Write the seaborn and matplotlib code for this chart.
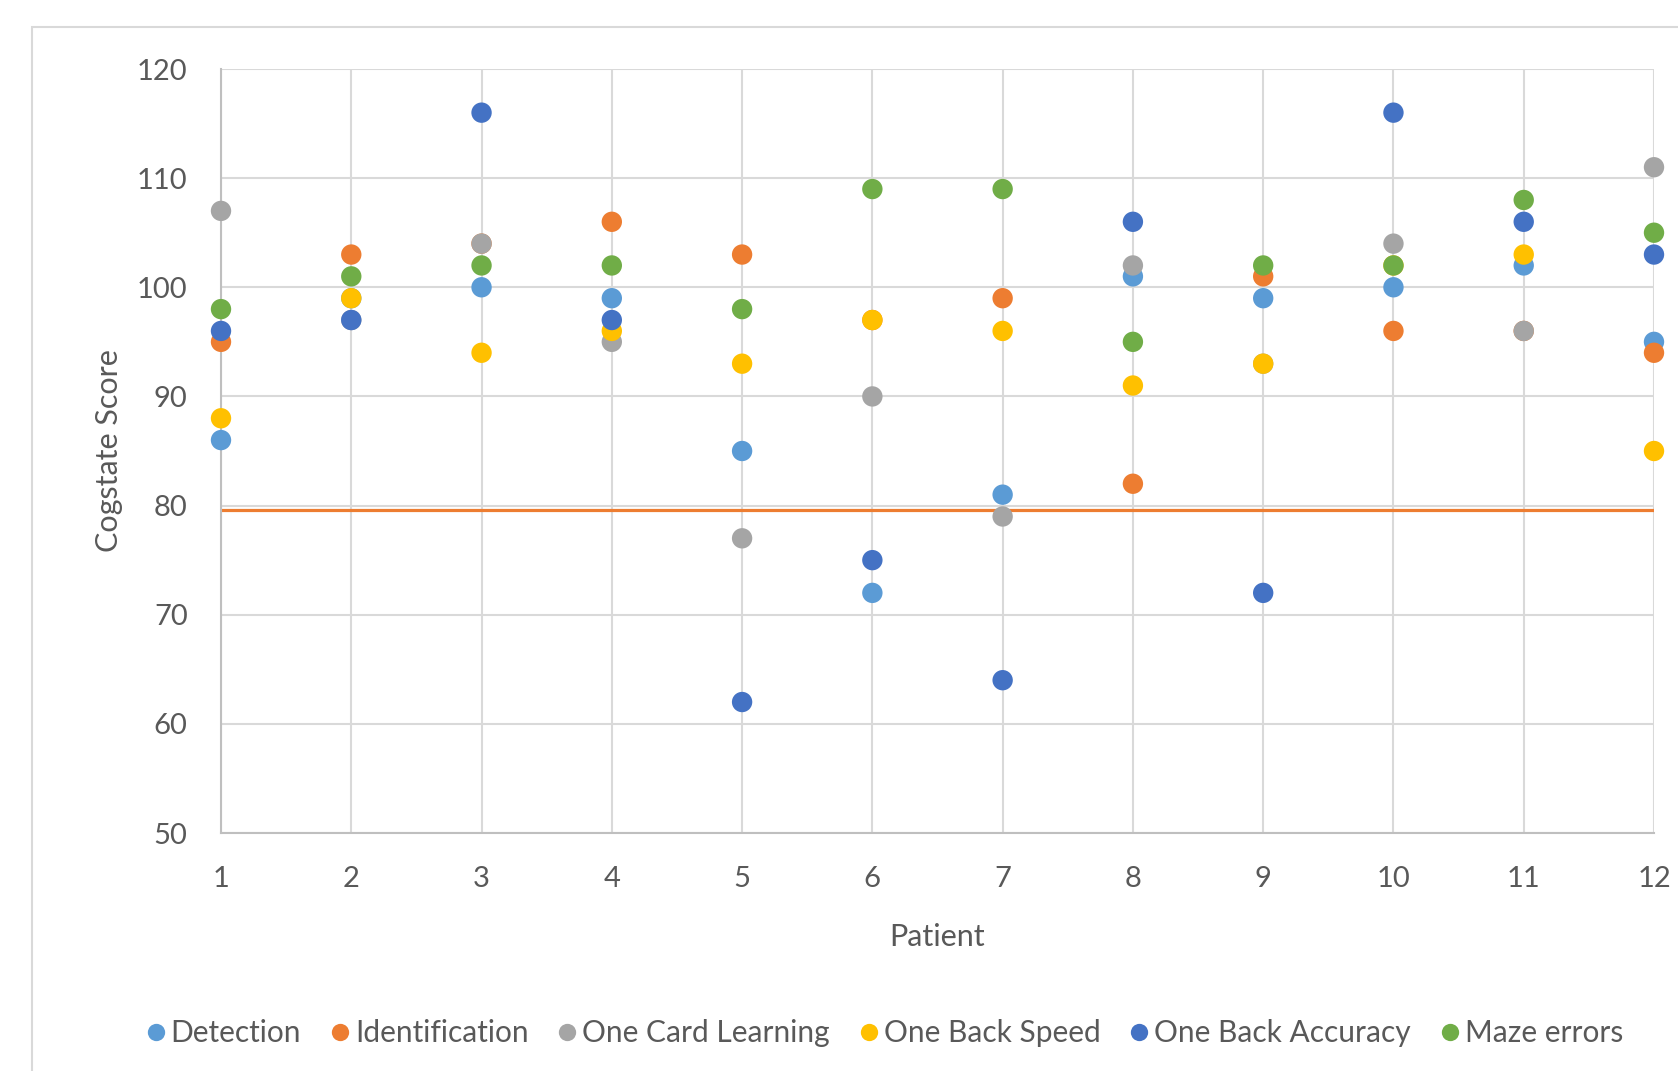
import matplotlib
matplotlib.use("Agg")
import matplotlib.pyplot as plt
from matplotlib.patches import Rectangle
import seaborn as sns
import pandas as pd

patients = [1, 2, 3, 4, 5, 6, 7, 8, 9, 10, 11, 12]
detection = [86, 99, 100, 99, 85, 72, 81, 101, 99, 100, 102, 95]
identification = [95, 103, 104, 106, 103, 97, 99, 82, 101, 96, 96, 94]
one_card_learning = [107, 97, 104, 95, 77, 90, 79, 102, 93, 104, 96, 111]
one_back_speed = [88, 99, 94, 96, 93, 97, 96, 91, 93, 102, 103, 85]
one_back_accuracy = [96, 97, 116, 97, 62, 75, 64, 106, 72, 116, 106, 103]
maze_errors = [98, 101, 102, 102, 98, 109, 109, 95, 102, 102, 108, 105]
threshold = 79.6

series = {
    "Detection": detection,
    "Identification": identification,
    "One Card Learning": one_card_learning,
    "One Back Speed": one_back_speed,
    "One Back Accuracy": one_back_accuracy,
    "Maze errors": maze_errors,
}
colors = ["#5B9BD5", "#ED7D31", "#A5A5A5", "#FFC000", "#4472C4", "#70AD47"]

rows = []
for name, vals in series.items():
    for p, v in zip(patients, vals):
        rows.append({"Patient": p, "Score": v, "Test": name})
df = pd.DataFrame(rows)

sns.set_theme(style="white")
plt.rcParams["font.family"] = ["Lato", "DejaVu Sans"]
text_color = "#595959"

fig = plt.figure(figsize=(16.78, 10.71), dpi=100)
ax = fig.add_axes([221 / 1678, 1 - 833 / 1071, (1654 - 221) / 1678, (833 - 69) / 1071])

# outer chart frame
fig.patches.append(Rectangle((32 / 1678, -0.1), 1.2, 1 - 27 / 1071 + 0.1,
                             transform=fig.transFigure, fill=False,
                             edgecolor="#D9D9D9", linewidth=1.5, zorder=0))

ax.axhline(threshold, color="#ED7D31", linewidth=2.3, zorder=2)

sns.scatterplot(data=df, x="Patient", y="Score", hue="Test", palette=colors,
                s=215, linewidth=0, ax=ax, zorder=3, clip_on=False, legend=True)

ax.set_xlim(1, 12)
ax.set_ylim(50, 120)
ax.set_xticks(patients)
ax.set_yticks(range(50, 121, 10))
ax.grid(True, color="#D9D9D9", linewidth=1.5, zorder=0)
ax.set_axisbelow(True)
for side in ["top", "right"]:
    ax.spines[side].set_visible(False)
for side in ["left", "bottom"]:
    ax.spines[side].set_color("#BFBFBF")
    ax.spines[side].set_linewidth(1.5)
ax.tick_params(axis="both", length=0, labelsize=21, colors=text_color)
ax.tick_params(axis="y", pad=24)
ax.tick_params(axis="x", pad=24)

ax.set_xlabel("Patient", fontsize=22, color=text_color, labelpad=22)
ax.set_ylabel("Cogstate Score", fontsize=22, color=text_color, labelpad=10)

handles, labels = ax.get_legend_handles_labels()
ax.legend(handles, labels, loc="center", bbox_to_anchor=(884 / 1678, 1 - 1033 / 1071),
          bbox_transform=fig.transFigure, ncol=6, frameon=False, fontsize=21.5,
          labelcolor=text_color, handlelength=0.7, handletextpad=0.15,
          columnspacing=0.95, markerscale=0.85, borderaxespad=0)

fig.savefig("out.png", dpi=100, facecolor="white")
